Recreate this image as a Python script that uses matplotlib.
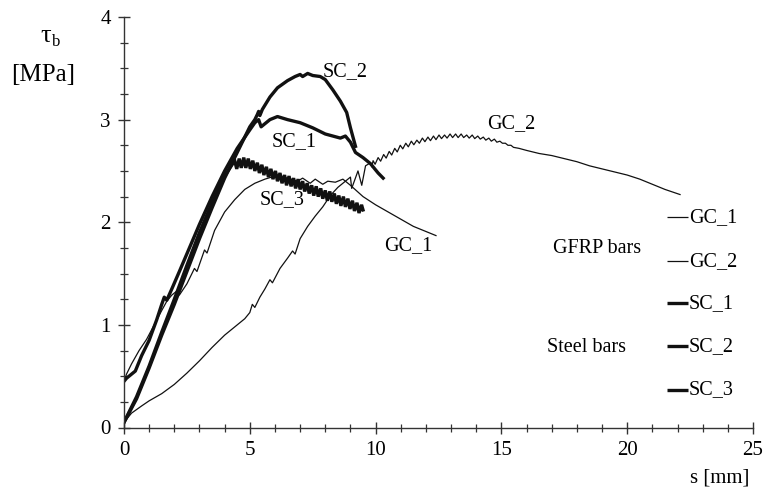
import matplotlib
matplotlib.use("Agg")
import matplotlib.pyplot as plt
from matplotlib.ticker import MultipleLocator

plt.rcParams['font.family'] = ['Liberation Serif', 'DejaVu Serif']
plt.rcParams['mathtext.fontset'] = 'stix'

# ---------------- data (s [mm], tau_b [MPa]) ----------------
gc1_s = [0.0, 0.1, 0.3, 0.6, 0.9, 1.2, 1.5, 1.7, 1.9, 2.1, 2.2, 2.5, 2.8, 2.9, 3.2, 3.3, 3.6,
         4.0, 4.4, 4.8, 5.2, 5.6, 6.0, 6.5, 6.9, 7.1, 7.4, 7.6, 7.9, 8.1, 8.4, 8.7, 9.0, 9.5,
         10.0, 10.5, 11.0, 11.5, 12.0, 12.4]
gc1_t = [0.45, 0.52, 0.62, 0.75, 0.86, 1.00, 1.14, 1.23, 1.29, 1.33, 1.29, 1.40, 1.55, 1.52, 1.73, 1.70, 1.92,
         2.10, 2.22, 2.32, 2.38, 2.42, 2.45, 2.43, 2.40, 2.43, 2.38, 2.42, 2.37, 2.40, 2.39, 2.42, 2.36, 2.25,
         2.17, 2.10, 2.03, 1.96, 1.91, 1.87]

gc2_s = [0.0, 0.3, 0.7, 1.0, 1.5, 2.0, 2.5, 3.0, 3.5, 4.0, 4.5, 4.8, 5.0, 5.1, 5.2, 5.4, 5.6, 5.8, 5.9,
         6.2, 6.5, 6.7, 6.8, 7.0, 7.3, 7.6, 7.9, 8.2, 8.5, 8.8, 9.0, 9.05, 9.3, 9.45, 9.6, 9.8, 9.85,
         9.90, 9.98, 10.10, 10.20, 10.32, 10.42, 10.54, 10.64, 10.76, 10.86, 10.98, 11.08,
         11.20, 11.30, 11.42, 11.52, 11.64, 11.74, 11.86, 11.96, 12.08, 12.18, 12.30, 12.40,
         12.52, 12.62, 12.74, 12.84, 12.96, 13.06, 13.18, 13.28, 13.40, 13.50, 13.62, 13.72,
         13.84, 13.94, 14.06, 14.16, 14.28, 14.38, 14.50, 14.60, 14.72, 14.82, 14.94, 15.04,
         15.16, 15.26, 15.38, 15.48, 15.7, 16.0, 16.5, 17.0, 17.5, 18.0, 18.5, 19.0, 19.5,
         20.0, 20.5, 21.0, 21.5, 22.1]
gc2_t = [0.05, 0.14, 0.21, 0.26, 0.33, 0.42, 0.53, 0.65, 0.78, 0.90, 1.00, 1.06, 1.12, 1.20, 1.17, 1.27, 1.35, 1.44, 1.41,
         1.55, 1.65, 1.72, 1.69, 1.84, 1.96, 2.06, 2.15, 2.26, 2.34, 2.40, 2.44, 2.33, 2.50, 2.36, 2.55, 2.58, 2.54,
         2.60, 2.565, 2.63, 2.595, 2.66, 2.625, 2.69, 2.655, 2.72, 2.685, 2.75, 2.715,
         2.77, 2.735, 2.79, 2.755, 2.80, 2.77, 2.82, 2.785, 2.83, 2.795, 2.84, 2.805,
         2.85, 2.815, 2.85, 2.82, 2.86, 2.825, 2.86, 2.825, 2.86, 2.825, 2.85, 2.82,
         2.85, 2.815, 2.84, 2.81, 2.83, 2.80, 2.82, 2.79, 2.81, 2.78, 2.79, 2.77,
         2.77, 2.75, 2.75, 2.73, 2.72, 2.70, 2.67, 2.65, 2.62, 2.59, 2.55, 2.52, 2.49,
         2.46, 2.42, 2.37, 2.32, 2.27]

sc1_s = [0.0, 0.1, 0.45, 0.7, 1.0, 1.3, 1.5, 1.6, 1.7, 1.9, 2.2, 2.6, 3.0, 3.5, 4.0, 4.5, 5.0, 5.2, 5.35,
         5.45, 5.55, 5.8, 6.1, 6.5, 7.0, 7.5, 8.0, 8.3, 8.6, 8.8, 9.0, 9.2, 9.5, 9.8, 10.1, 10.3]
sc1_t = [0.45, 0.48, 0.55, 0.70, 0.85, 1.05, 1.20, 1.27, 1.24, 1.35, 1.52, 1.75, 1.98, 2.25, 2.50, 2.72, 2.90, 2.97, 3.00,
         2.93, 2.95, 3.00, 3.03, 3.00, 2.97, 2.92, 2.86, 2.84, 2.82, 2.84, 2.78, 2.68, 2.63, 2.57, 2.48, 2.43]

sc2_s = [0.0, 0.5, 1.0, 1.5, 2.0, 2.5, 3.0, 3.5, 4.0, 4.5, 5.0, 5.2, 5.3, 5.35, 5.4, 5.5, 5.8, 6.1, 6.5,
         6.8, 7.0, 7.1, 7.3, 7.5, 7.8, 8.0, 8.3, 8.6, 8.85, 9.0, 9.2]
sc2_t = [0.05, 0.28, 0.58, 0.90, 1.20, 1.52, 1.84, 2.14, 2.43, 2.68, 2.93, 3.00, 3.05, 3.08, 3.04, 3.10, 3.22, 3.31, 3.38,
         3.42, 3.44, 3.42, 3.45, 3.43, 3.42, 3.39, 3.29, 3.18, 3.07, 2.92, 2.74]

sc3_s = [0.0, 0.5, 1.0, 1.5, 2.0, 2.5, 3.0, 3.5, 4.0, 4.40,
         4.48, 4.58, 4.66, 4.76, 4.84, 4.94, 5.02, 5.12, 5.20, 5.30, 5.38, 5.48, 5.56, 5.66, 5.74,
         5.84, 5.92, 6.02, 6.10, 6.20, 6.28, 6.38, 6.46, 6.56, 6.64, 6.74, 6.82, 6.92, 7.00, 7.10,
         7.18, 7.28, 7.36, 7.46, 7.54, 7.64, 7.72, 7.82, 7.90, 8.00, 8.08, 8.18, 8.26, 8.36, 8.44,
         8.54, 8.62, 8.72, 8.80, 8.90, 8.98, 9.08, 9.16, 9.26, 9.34, 9.44, 9.50]
sc3_t = [0.05, 0.30, 0.60, 0.93, 1.25, 1.58, 1.90, 2.19, 2.45, 2.60,
         2.52, 2.62, 2.53, 2.63, 2.53, 2.62, 2.52, 2.60, 2.50, 2.58, 2.48, 2.56, 2.46, 2.54, 2.44,
         2.52, 2.42, 2.50, 2.40, 2.48, 2.38, 2.46, 2.36, 2.45, 2.35, 2.43, 2.33, 2.42, 2.32, 2.40,
         2.30, 2.38, 2.28, 2.36, 2.26, 2.35, 2.25, 2.33, 2.23, 2.31, 2.21, 2.30, 2.20, 2.28, 2.18,
         2.26, 2.16, 2.25, 2.15, 2.23, 2.13, 2.21, 2.11, 2.19, 2.09, 2.17, 2.12]

series_names = ["GC_1", "GC_2", "SC_1", "SC_2", "SC_3"]
x_ticks = [0, 5, 10, 15, 20, 25]
y_ticks = [0, 1, 2, 3, 4]

# ---------------- figure ----------------
fig = plt.figure(figsize=(7.65, 4.95), dpi=100)
ax = fig.add_axes([124 / 765, 67.5 / 495, 629 / 765, 410.5 / 495])

thin = 0.9
thick = 2.4
col = '#111111'
ax.plot(gc1_s, gc1_t, color=col, lw=thin)
ax.plot(gc2_s, gc2_t, color=col, lw=thin)
ax.plot(sc1_s, sc1_t, color=col, lw=thick, solid_joinstyle='round')
ax.plot(sc2_s, sc2_t, color=col, lw=thick, solid_joinstyle='round')
ax.plot(sc3_s, sc3_t, color=col, lw=thick, solid_joinstyle='miter')

ax.set_xlim(0, 25)
ax.set_ylim(0, 4)
for sp in ['top', 'right']:
    ax.spines[sp].set_visible(False)
for sp in ['left', 'bottom']:
    ax.spines[sp].set_linewidth(1.0)
    ax.spines[sp].set_color('#333333')

ax.set_xticks(x_ticks)
ax.set_yticks(y_ticks)
ax.xaxis.set_minor_locator(MultipleLocator(1))
ax.yaxis.set_minor_locator(MultipleLocator(0.25))
ax.tick_params(which='major', direction='inout', length=9, width=1.0, color='#333333',
               labelsize=15, pad=5)
ax.tick_params(which='minor', direction='inout', length=6, width=0.9, color='#333333')

# annotations
fs = 14.5
ax.text(8.8, 3.47, "SC_2", fontsize=fs, ha='center', va='center')
ax.text(6.75, 2.79, "SC_1", fontsize=fs, ha='center', va='center')
ax.text(6.3, 2.22, "SC_3", fontsize=fs, ha='center', va='center')
ax.text(11.3, 1.77, "GC_1", fontsize=fs, ha='center', va='center')
ax.text(15.4, 2.96, "GC_2", fontsize=fs, ha='center', va='center')

# legend-like key
key_y = [2.05, 1.62, 1.21, 0.79, 0.37]
key_lw = [thin, thin, thick, thick, thick]
for name, yy, lw in zip(series_names, key_y, key_lw):
    ax.plot([21.6, 22.4], [yy, yy], color=col, lw=lw, solid_capstyle='butt')
    ax.text(22.45, yy, name, fontsize=fs, ha='left', va='center')
ax.text(18.8, 1.74, "GFRP bars", fontsize=fs, ha='center', va='center')
ax.text(18.4, 0.775, "Steel bars", fontsize=fs, ha='center', va='center')

# axis labels
fig.text(46 / 765, 1 - 36 / 495, "τ", fontsize=19, ha='center', va='center')
fig.text(56 / 765, 1 - 42 / 495, "b", fontsize=12, ha='center', va='center')
fig.text(43 / 765, 1 - 75 / 495, "[MPa]", fontsize=18, ha='center', va='center')
fig.text(720 / 765, 1 - 478 / 495, "s [mm]", fontsize=15, ha='center', va='center')

fig.savefig("out.png", dpi=100)
